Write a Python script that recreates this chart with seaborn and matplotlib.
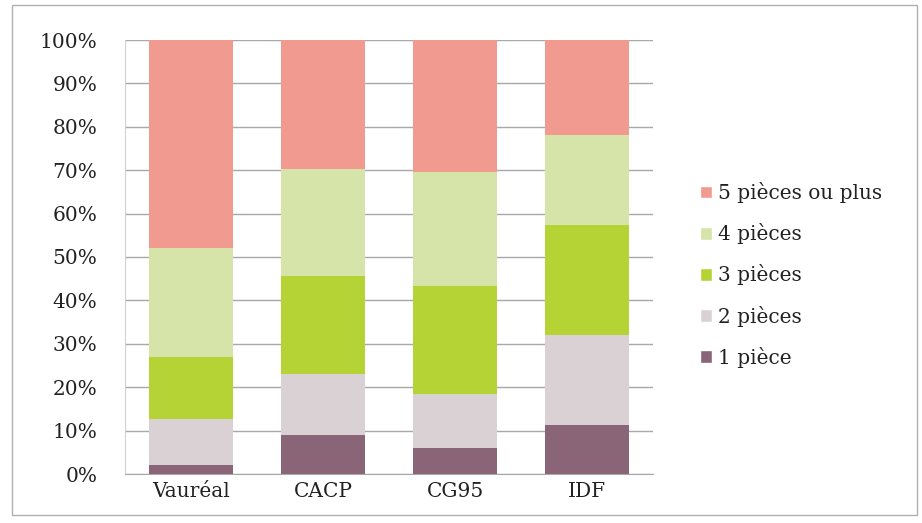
import numpy as np
import pandas as pd
import matplotlib
matplotlib.use('Agg')
import matplotlib.pyplot as plt
import seaborn as sns
from matplotlib.patches import Patch, Rectangle

# données (% des logements par nombre de pièces)
villes = ['Vauréal', 'CACP', 'CG95', 'IDF']
p1 = [2.1, 9.0, 5.9, 11.3]
p2 = [10.5, 14.0, 12.5, 20.7]
p3 = [14.3, 22.7, 24.9, 25.4]
p4 = [25.1, 24.6, 26.4, 20.7]
p5 = [48.0, 29.7, 30.3, 21.9]
labels = ['1 pièce', '2 pièces', '3 pièces', '4 pièces', '5 pièces ou plus']
couleurs = ['#8a6577', '#d9d1d4', '#b5d334', '#d6e4a9', '#f19a8f']

df = pd.DataFrame({'ville': villes, labels[0]: p1, labels[1]: p2,
                   labels[2]: p3, labels[3]: p4, labels[4]: p5})

sns.set_style('white')
plt.rcParams['font.family'] = ['DejaVu Serif', 'Liberation Serif']

fig = plt.figure(figsize=(9.22, 5.23), dpi=100)
ax = fig.add_axes([125 / 922, 1 - 474 / 523, 528 / 922, 434 / 523])

# empilement : on dessine les cumuls du plus haut au plus bas
cumul = df[labels].cumsum(axis=1)
for lab, col in reversed(list(zip(labels, couleurs))):
    sns.barplot(x=df['ville'], y=cumul[lab], color=col, width=0.64,
                saturation=1, linewidth=0, ax=ax, zorder=2)

ax.set_ylim(0, 100)
ax.set_xlim(-0.5, 3.5)
ax.set_yticks(range(0, 101, 10))
ax.set_yticklabels([f'{v}%' for v in range(0, 101, 10)], fontsize=14.5, color='#222222')
ax.tick_params(axis='x', labelsize=14.5, labelcolor='#222222', pad=6, length=0)
ax.tick_params(axis='y', pad=20, length=0)
ax.set_xlabel('')
ax.set_ylabel('')
ax.grid(axis='y', color='#a8a8a8', linewidth=1, zorder=0)
ax.set_axisbelow(True)
for s in ['top', 'right']:
    ax.spines[s].set_visible(False)
ax.spines['left'].set_color('#d0d0d0')
ax.spines['bottom'].set_color('#a8a8a8')

handles = [Patch(facecolor=c, label=l) for l, c in zip(labels, couleurs)][::-1]
fig.legend(handles=handles, loc='upper left', bbox_to_anchor=(682 / 922, 1 - 164 / 523),
           frameon=False, fontsize=14.5, handlelength=0.6, handleheight=0.6,
           handletextpad=0.3, labelspacing=1.0, labelcolor='#222222')

# cadre extérieur
fig.patches.append(Rectangle((12 / 922, 8 / 523), 905 / 922, 510 / 523,
                             transform=fig.transFigure, fill=False,
                             edgecolor='#b0b0b0', linewidth=1))

fig.savefig('out.png', dpi=100, facecolor='white')
